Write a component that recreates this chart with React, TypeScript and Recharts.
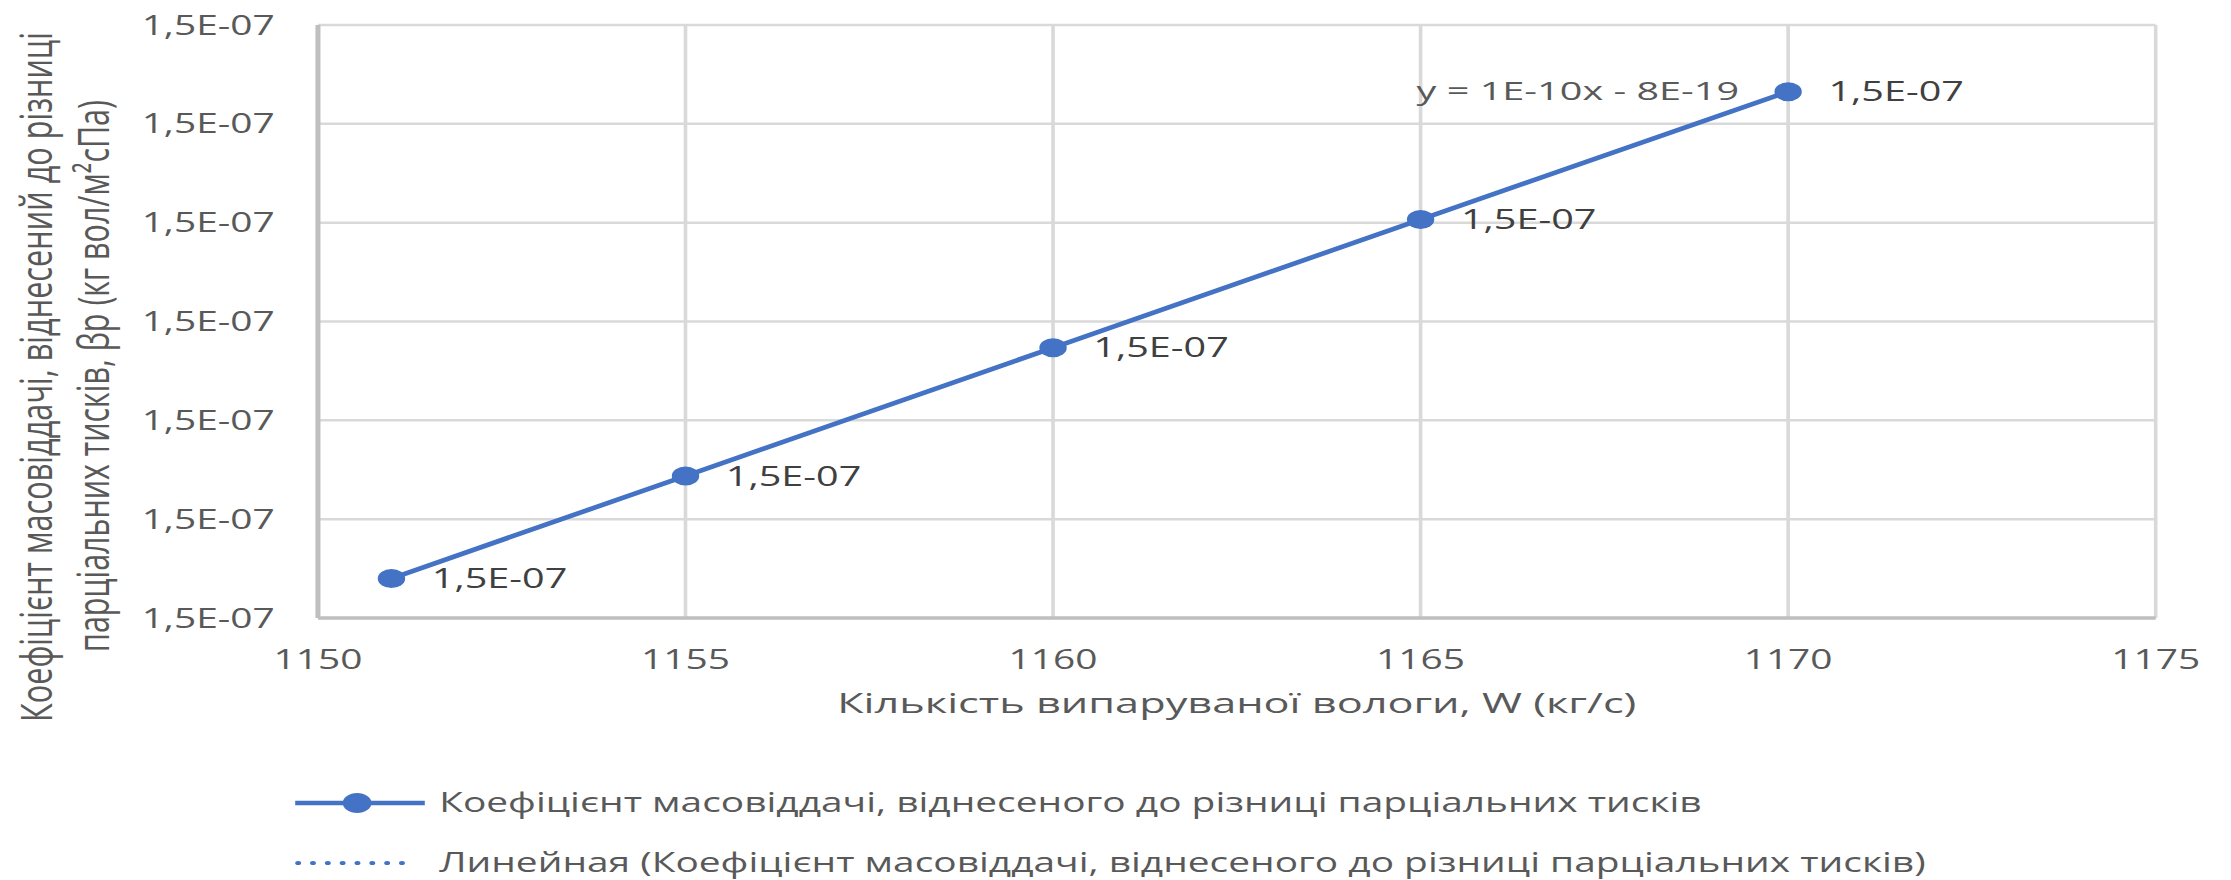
import React from "react";
import { CartesianGrid, ComposedChart, Label, LabelList, Legend, Line, XAxis, YAxis } from "recharts";

// values
const waterFlow = [1151, 1155, 1160, 1165, 1170];
const massTransfer = [1.49916e-7, 1.499575e-7, 1.500094e-7, 1.500613e-7, 1.50113e-7];
const trendFlow = [1151, 1170];
const trendValues = [1.49916e-7, 1.50113e-7];
const xTicks = [1150, 1155, 1160, 1165, 1170, 1175];
const yTicks = [1.499e-7, 1.4994e-7, 1.4998e-7, 1.5002e-7, 1.5006e-7, 1.501e-7, 1.5014e-7];

const seriesName = "Коефіцієнт  масовіддачі, віднесеного до різниці парціальних тисків";
const trendName = "Линейная (Коефіцієнт  масовіддачі, віднесеного до різниці парціальних тисків)";
const equation = "y = 1E-10x - 8E-19";
const xTitle = "Кількість випаруваної вологи, W (кг/с)";
const yTitle = ["Коефіцієнт  масовіддачі, віднесений до різниці", "парціальних тисків, βр (кг вол/м²сПа)"];

const data = waterFlow.map((w, i) => ({ w, beta: massTransfer[i] }));
const trendData = trendFlow.map((w, i) => ({ w, beta: trendValues[i] }));

// the source picture is stretched sideways, so the whole chart is too
const STRETCH = 1.44;
const W = 1549;
const H = 880;
const BLUE = "#4472C4";
const TEXT = "#595959";
const FONT = "'Open Sans', 'Noto Sans', sans-serif";

const formatSci = (v: unknown) => {
  const n = typeof v === "number" ? v : Number(v) || 0;
  const [m, e] = n.toExponential(1).split("e");
  const exp = Number(e);
  return `${m.replace(".", ",")}E${exp < 0 ? "-" : "+"}${String(Math.abs(exp)).padStart(2, "0")}`;
};

const PointLabel = (props: any) => {
  const { x, y, value } = props;
  return (
    <text x={Number(x) + 28} y={y} dy="0.35em" fontSize={27.5} fill="#404040" fontFamily={FONT}>
      {formatSci(value)}
    </text>
  );
};

const EquationLabel = (props: any) => {
  const { x, y, index } = props;
  if (index !== trendFlow.length - 1) return null;
  return (
    <text
      x={Number(x) - 34}
      y={y}
      dy="0.35em"
      textAnchor="end"
      fontSize={25}
      fill={TEXT}
      fontFamily={FONT}
      textLength={224}
      lengthAdjust="spacingAndGlyphs"
    >
      {equation}
    </text>
  );
};

const YTitle = () => (
  <g fill={TEXT} fontFamily={FONT} fontSize={30}>
    <text transform="translate(36,377) rotate(-90)" textAnchor="middle" textLength={690} lengthAdjust="spacingAndGlyphs">
      {yTitle[0]}
    </text>
    <text transform="translate(76,376) rotate(-90)" textAnchor="middle" textLength={552} lengthAdjust="spacingAndGlyphs">
      {yTitle[1]}
    </text>
  </g>
);

const XTitle = (props: any) => {
  const vb = props.viewBox || {};
  return (
    <text
      x={vb.x + vb.width / 2}
      y={703}
      dy="0.35em"
      textAnchor="middle"
      fontSize={28}
      fill={TEXT}
      fontFamily={FONT}
      textLength={555}
      lengthAdjust="spacingAndGlyphs"
    >
      {xTitle}
    </text>
  );
};

const LegendBox = () => (
  <svg width={W} height={110} style={{ display: "block" }}>
    <line x1={205} x2={295} y1={33} y2={33} stroke={BLUE} strokeWidth={4.5} />
    <circle cx={248} cy={33} r={10} fill={BLUE} />
    <text x={305} y={33} dy="0.35em" fontSize={27} fill={TEXT} fontFamily={FONT}>
      {seriesName}
    </text>
    <line x1={207} x2={286} y1={93} y2={93} stroke={BLUE} strokeWidth={4} strokeDasharray="0.1 10.2" strokeLinecap="round" />
    <text x={305} y={93} dy="0.35em" fontSize={27} fill={TEXT} fontFamily={FONT}>
      {trendName}
    </text>
  </svg>
);

export default function App() {
  return (
    <div
      style={{
        position: "absolute",
        left: 0,
        top: 0,
        width: W,
        height: H,
        background: "#fff",
        transform: `scaleX(${STRETCH})`,
        transformOrigin: "0 0",
      }}
    >
      <ComposedChart width={W} height={H} data={data} margin={{ top: 25, right: 52, left: 0, bottom: 202 }}>
        <CartesianGrid stroke="#d9d9d9" strokeWidth={2.5} />
        <XAxis
          type="number"
          dataKey="w"
          domain={[1150, 1175]}
          ticks={xTicks}
          height={60}
          tickSize={0}
          tickMargin={32}
          axisLine={{ stroke: "#bfbfbf", strokeWidth: 3.5 }}
          tick={{ fill: TEXT, fontSize: 27, fontFamily: FONT }}
        >
          <Label content={XTitle} />
        </XAxis>
        <YAxis
          type="number"
          domain={[yTicks[0], yTicks[yTicks.length - 1]]}
          ticks={yTicks}
          width={220.8}
          tickSize={0}
          tickMargin={30}
          axisLine={{ stroke: "#bfbfbf", strokeWidth: 3.5 }}
          tick={{ fill: TEXT, fontSize: 27, fontFamily: FONT }}
          tickFormatter={formatSci}
        >
          <Label content={YTitle} />
        </YAxis>
        <Legend
          layout="horizontal"
          verticalAlign="middle"
          align="center"
          wrapperStyle={{ left: 0, top: 770, width: W, height: 110 }}
          content={() => <LegendBox />}
        />
        <Line
          data={trendData}
          dataKey="beta"
          name={trendName}
          stroke={BLUE}
          strokeWidth={2}
          strokeDasharray="0.1 10"
          strokeLinecap="round"
          dot={false}
          activeDot={false}
          isAnimationActive={false}
        >
          <LabelList dataKey="beta" content={EquationLabel} />
        </Line>
        <Line
          dataKey="beta"
          name={seriesName}
          stroke={BLUE}
          strokeWidth={4.5}
          dot={{ r: 9.5, fill: BLUE, stroke: BLUE, strokeWidth: 0 }}
          activeDot={false}
          isAnimationActive={false}
        >
          <LabelList dataKey="beta" content={PointLabel} />
        </Line>
      </ComposedChart>
    </div>
  );
}
